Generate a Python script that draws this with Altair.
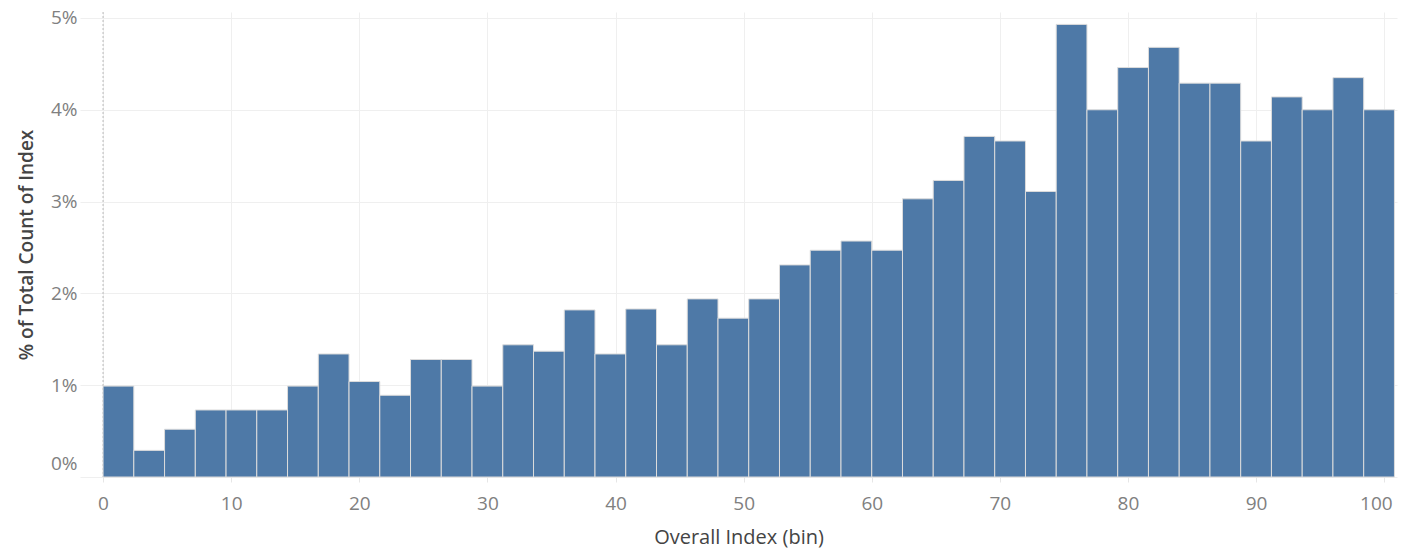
import altair as alt
import pandas as pd

bin_size = 2.4
pct_values = [0.99, 0.29, 0.52, 0.73, 0.73, 0.73, 0.99, 1.34, 1.04, 0.89,
              1.28, 1.28, 0.99, 1.44, 1.37, 1.82, 1.34, 1.83, 1.44, 1.94,
              1.73, 1.94, 2.31, 2.47, 2.57, 2.47, 3.03, 3.23, 3.71, 3.66,
              3.11, 4.93, 4.00, 4.46, 4.68, 4.29, 4.29, 3.66, 4.14, 4.00,
              4.35, 4.00]
bin_starts = [round(i * bin_size, 2) for i in range(len(pct_values))]
x_ticks = [0, 10, 20, 30, 40, 50, 60, 70, 80, 90, 100]
y_ticks = [0, 0.01, 0.02, 0.03, 0.04, 0.05]

df = pd.DataFrame({
    "start": bin_starts,
    "end": [s + bin_size for s in bin_starts],
    "pct": [v / 100 for v in pct_values],
})

FONT = "Open Sans"
x_scale = alt.Scale(domain=[-1.8, 101.0], nice=False, zero=False)
y_scale = alt.Scale(domain=[0, 0.05065], nice=False)

bars = alt.Chart(df).mark_bar(
    color="#4e79a7", stroke="#dcdcdc", strokeWidth=1
).encode(
    x=alt.X("start:Q", scale=x_scale,
            axis=alt.Axis(values=x_ticks, title="Overall Index (bin)",
                          domain=False, grid=True, gridColor="#efefef",
                          ticks=True, tickColor="#e6e6e6", tickSize=5,
                          labelPadding=12, labelFontSize=19,
                          labelColor="#808080", labelFont=FONT,
                          labelFlush=15, labelFlushOffset=8,
                          titleFont=FONT, titleFontSize=20,
                          titleFontWeight="normal", titleColor="#444444",
                          titlePadding=14)),
    x2="end:Q",
    y=alt.Y("pct:Q", scale=y_scale,
            axis=alt.Axis(values=y_ticks, format=".0%",
                          title="% of Total Count of Index",
                          domain=False, ticks=False, grid=True,
                          gridColor="#efefef", labelPadding=3,
                          labelFontSize=19, labelColor="#808080",
                          labelFont=FONT, labelFlush=5,
                          labelFlushOffset=-4,
                          titleFont=FONT, titleFontSize=19,
                          titleFontWeight=600, titleColor="#444444",
                          titlePadding=14)),
    y2=alt.datum(0),
)

zero_line = alt.Chart(pd.DataFrame({"x": [0]})).mark_rule(
    color="#bbbbbb", strokeDash=[2, 2], strokeWidth=1
).encode(x=alt.X("x:Q", scale=x_scale))

chart = alt.layer(zero_line, bars).properties(
    width=1317, height=465,
    autosize=alt.AutoSizeParams(type="none"),
    padding={"left": 72, "top": 4, "right": 2, "bottom": 72},
).configure_view(stroke=None)

chart.save("out.html", embed_options={"renderer": "svg", "actions": False})
